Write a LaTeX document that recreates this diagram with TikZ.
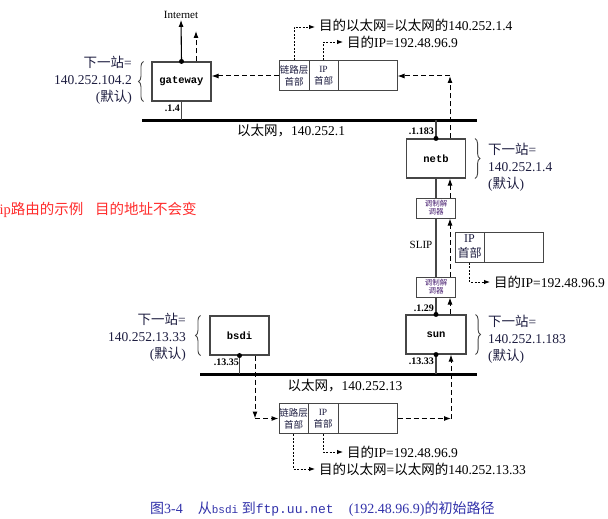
\documentclass[tikz,border=0pt]{standalone}
\usepackage{fontspec}
\setmainfont{Liberation Serif}
\setmonofont{Liberation Mono}
\newfontfamily\cjk{Noto Sans CJK SC}
\usetikzlibrary{arrows.meta,decorations.pathreplacing}
\newcommand{\zh}[1]{{\cjk #1}}
\definecolor{labc}{RGB}{30,30,65}
\definecolor{boxc}{RGB}{70,70,70}
\definecolor{capc}{RGB}{50,50,170}
\definecolor{redc}{RGB}{255,45,45}
\definecolor{modc}{RGB}{75,35,115}
\begin{document}
\begin{tikzpicture}[x=1pt,y=-1pt,
  host/.style={draw=boxc, line width=1.1pt, minimum width=59pt, minimum height=39pt, inner sep=0pt, font=\fontsize{10.5}{12}\selectfont\ttfamily\bfseries},
  hdr/.style={draw=boxc, line width=1pt, minimum height=30pt, inner sep=0pt, align=center, text=labc, font=\fontsize{9.5}{12}\selectfont},
  modem/.style={draw=boxc, line width=1pt, minimum width=39pt, minimum height=20pt, inner sep=0pt, align=center, text=modc, font=\fontsize{7.5}{8}\selectfont},
  hdot/.style={circle, fill=black, inner sep=0pt, minimum size=5pt},
  eth/.style={line width=3pt},
  wire/.style={draw=boxc, line width=1.1pt},
  flow/.style={dash pattern=on 5pt off 3pt, line width=1pt, -{Latex[length=7pt,width=5pt]}},
  ptr/.style={dash pattern=on 2pt off 1.5pt, line width=0.9pt, -{Latex[length=6pt,width=4.5pt]}},
  brc/.style={decorate, decoration={brace, amplitude=5pt}, line width=0.9pt, draw=boxc},
  lbl/.style={text=labc, font=\fontsize{13.5}{17}\selectfont, inner sep=0pt},
  txt/.style={font=\fontsize{13.5}{16}\selectfont, inner sep=0pt, anchor=west},
  addr/.style={font=\fontsize{10}{12}\selectfont\bfseries, inner sep=0pt, anchor=east}
]
\useasboundingbox (0,0) rectangle (608,519);
\fill[white] (0,0) rectangle (608,519);

% ethernets
\coordinate (e1a) at (142,120); \coordinate (e1b) at (477,120);
\coordinate (e2a) at (200,374); \coordinate (e2b) at (477,374);
\draw[eth] (e1a) -- (e1b);
\draw[eth] (e2a) -- (e2b);
\node[txt, anchor=center] (n1) at (291,131) {\zh{以太网，}140.252.1};
\node[txt, anchor=center] (n2) at (345,386) {\zh{以太网，}140.252.13};

% hosts
\node[host] (gw) at (181.5,81.5) {gateway};
\node[host] (netb) at (436,158.5) {netb};
\node[host, minimum width=60pt] (sun) at (436,334.5) {sun};
\node[host] (bsdi) at (239.5,335.5) {bsdi};
\node[modem] (m1) at (436,208) {\zh{调制解}\\\zh{调器}};
\node[modem] (m2) at (436,287) {\zh{调制解}\\\zh{调器}};

% frames
\node[hdr, minimum width=30pt] (lh1) at (294,76) {\zh{链路层}\\\zh{首部}};
\node[hdr, minimum width=29pt] (ip1) at (323.5,76) {IP\\\zh{首部}};
\node[hdr, minimum width=59pt] (d1) at (367.5,76) {};
\node[hdr, minimum width=29pt] (lh2) at (293.5,418.5) {\zh{链路层}\\\zh{首部}};
\node[hdr, minimum width=30pt] (ip2) at (323,418.5) {IP\\\zh{首部}};
\node[hdr, minimum width=59pt] (d2) at (367.5,418.5) {};
\node[hdr, minimum width=29pt, font=\fontsize{12}{15}\selectfont] (ip3) at (469.5,247) {IP\\\zh{首部}};
\node[hdr, minimum width=59pt] (d3) at (513.5,247) {};

% Internet
\node[font=\fontsize{11}{13}\selectfont, inner sep=1pt] (inet) at (181,15) {Internet};
\draw[line width=1.1pt, -{Latex[length=7pt,width=5pt]}] (gw.north) -- (inet.south);
\coordinate (gwup) at (196,31);
\draw[flow] (gw.north -| gwup) -- (gwup);

% wires
\draw[wire] (gw.south) -- (gw.south |- e1a);
\draw[wire] (netb.north) -- (netb.north |- e1a);
\draw[wire] (netb.south) -- (m1.north);
\draw[wire] (m1.south) -- (m2.north);
\draw[wire] (m2.south) -- (sun.north);
\draw[wire] (sun.south) -- (sun.south |- e2a);
\draw[wire] (bsdi.south) -- (bsdi.south |- e2a);
\node[hdot] (dgw) at (gw.north) {};
\node[hdot] (dnetb) at (netb.north) {};
\node[hdot] (dsun1) at (sun.north) {};
\node[hdot] (dsun2) at (sun.south) {};
\node[hdot] (dbsdi) at (bsdi.south) {};

% address labels
\node[addr] (a1) at (180,108) {.1.4};
\node[addr] (a2) at (434,131) {.1.183};
\node[addr] (a3) at (434,308) {.1.29};
\node[addr] (a4) at (434,361) {.13.33};
\node[addr] (a5) at (239,362) {.13.35};
\node[font=\fontsize{11}{13}\selectfont, inner sep=0pt] (slip) at (421,245) {SLIP};

% packet flow
\draw[flow] (lh1.west) -- (lh1.west -| gw.east);
\coordinate (nu) at (450,76);
\draw[flow] ([xshift=14pt]netb.north) -- (nu);
\draw[flow] (nu) -- (d1.east);
\draw[flow] ([xshift=14pt]m1.north) -- ([xshift=14pt]netb.south);
\draw[flow] ([xshift=14pt]m2.north) -- ([xshift=14pt]m1.south);
\draw[flow] ([xshift=14pt]sun.north) -- ([xshift=14pt]m2.south);
\coordinate (bd) at (255,418.5);
\draw[flow] (bsdi.south -| bd) -- (bd);
\draw[flow] (bd) -- (lh2.west);
\coordinate (sd) at (451,418.5);
\draw[flow] (d2.east) -- (sd);
\draw[flow] (sd) -- (sd |- sun.south);

% pointer texts
\node[txt] (t1) at (319,25) {\zh{目的以太网}=\zh{以太网的}140.252.1.4};
\node[txt] (t2) at (347,42) {\zh{目的}IP=192.48.96.9};
\node[txt] (t3) at (494,282) {\zh{目的}IP=192.48.96.9};
\node[txt] (t4) at (347,452) {\zh{目的}IP=192.48.96.9};
\node[txt] (t5) at (319,469) {\zh{目的以太网}=\zh{以太网的}140.252.13.33};
\draw[ptr] (lh1.north) |- ([xshift=-4pt,yshift=-2pt]t1.west);
\draw[ptr] (ip1.north) |- ([xshift=-4pt]t2.west);
\draw[ptr] (ip3.south) |- ([xshift=-4pt]t3.west);
\draw[ptr] (ip2.south) |- ([xshift=-4pt]t4.west);
\draw[ptr] (lh2.south) |- ([xshift=-4pt]t5.west);

% braces and next-hop labels
\draw[brc] ([xshift=-8pt]gw.south west) -- ([xshift=-8pt]gw.north west);
\draw[brc] ([xshift=9pt]netb.north east) -- ([xshift=9pt]netb.south east);
\draw[brc] ([xshift=9pt]sun.north east) -- ([xshift=9pt]sun.south east);
\draw[brc] ([xshift=-9pt]bsdi.south west) -- ([xshift=-9pt]bsdi.north west);
\node[lbl, anchor=east, align=right] (g1) at (132,80) {\zh{下一站}=\\140.252.104.2\\(\zh{默认})};
\node[lbl, anchor=west, align=left] (g2) at (488,167) {\zh{下一站}=\\140.252.1.4\\(\zh{默认})};
\node[lbl, anchor=west, align=left] (g3) at (488,339) {\zh{下一站}=\\140.252.1.183\\(\zh{默认})};
\node[lbl, anchor=east, align=right] (g4) at (186,337) {\zh{下一站}=\\140.252.13.33\\(\zh{默认})};

% red note
\node[anchor=west, inner sep=0pt, text=redc, font=\fontsize{14.5}{16}\selectfont] (note) at (-0.5,210) {ip\zh{路由的示例}\hspace{0.8em}\zh{目的地址不会变}};

% caption
\node[anchor=west, inner sep=0pt, text=capc, font=\fontsize{14}{16}\selectfont] (cap) at (150,509) {\zh{图}3-4\hspace{15pt}\zh{从}{\fontsize{11}{12}\selectfont\ttfamily bsdi} \zh{到}{\fontsize{13}{16}\selectfont\ttfamily ftp.uu.net}\hspace{15pt}(192.48.96.9)\zh{的初始路径}};
\end{tikzpicture}
\end{document}
